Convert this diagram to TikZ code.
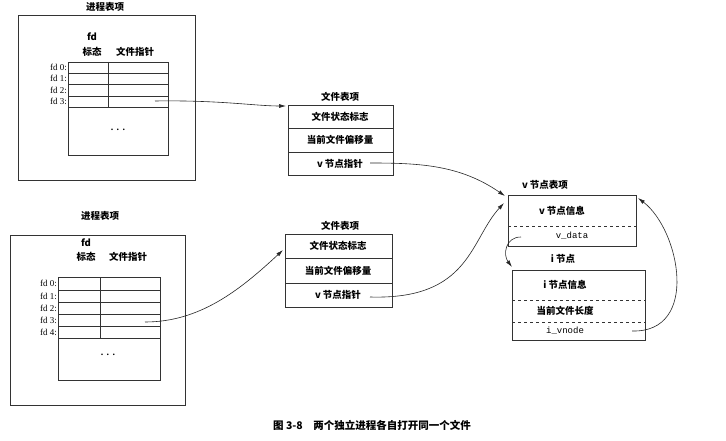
\documentclass[tikz,border=0pt]{standalone}
\usepackage{fontspec}
\setmainfont{Liberation Serif}
\setmonofont{Liberation Mono}
\newfontfamily\cjk{Noto Sans CJK SC}
\usetikzlibrary{arrows.meta}
\begin{document}
\begin{tikzpicture}[x=1pt,y=-1pt,
  lbl/.style={font=\cjk\bfseries\fontsize{9.5}{10}\selectfont,inner sep=1pt},
  fdl/.style={font=\fontsize{9}{9}\selectfont,anchor=east,inner sep=1pt},
  ln/.style={draw=black!80,line width=0.6pt},
  arr/.style={draw=black!85,line width=0.6pt,-{Latex[length=7pt,width=4pt]}}]
\fill[white] (0,0) rectangle (726,441);
\useasboundingbox (0,0) rectangle (726,441);
% top process
\node[lbl] (t1) at (105,7) {进程表项};
\draw[ln] (18,15) rectangle (195,180);
\node[lbl] (fd1) at (92,37) {fd};
\node[lbl] at (92,52) {标态};
\node[lbl] at (135,52) {文件指针};
\draw[ln] (68,62) rectangle (168,155);
\foreach \y in {73,84,96,107} \draw[ln] (68,\y) -- (168,\y);
\draw[ln] (108,62) -- (108,107);
\foreach \i/\y in {0/67.5,1/78.5,2/90,3/101.5} \node[fdl] at (68,\y) {fd \i:};
\node[font=\bfseries] at (118,130) {. . .};
\coordinate (p1) at (155,101);
% bottom process
\node[lbl] (t2) at (100,216) {进程表项};
\draw[ln] (10,235) rectangle (185,405);
\node[lbl] at (86,243) {fd};
\node[lbl] at (86,257) {标态};
\node[lbl] at (128,257) {文件指针};
\draw[ln] (58,277) rectangle (160,380);
\foreach \y in {290,302,314,326,338} \draw[ln] (58,\y) -- (160,\y);
\draw[ln] (100,277) -- (100,338);
\foreach \i/\y in {0/283.5,1/296,2/308,3/320,4/332} \node[fdl] at (58,\y) {fd \i:};
\node[font=\bfseries] at (108,355) {. . .};
\coordinate (p2) at (145,322);
% file table 1
\node[lbl] (f1t) at (340,97) {文件表项};
\draw[ln] (288,105) rectangle (393,175);
\draw[ln] (288,128) -- (393,128); \draw[ln] (288,152) -- (393,152);
\node[lbl] (f1a) at (340,116.5) {文件状态标志};
\node[lbl] (f1b) at (340,140) {当前文件偏移量};
\node[lbl] (f1c) at (340,163.5) {v 节点指针};
\coordinate (f1in) at (286,106);
\coordinate (f1out) at (370,163);
% file table 2
\node[lbl] (f2t) at (340,226) {文件表项};
\draw[ln] (285,234) rectangle (392,307);
\draw[ln] (285,258) -- (392,258); \draw[ln] (285,283) -- (392,283);
\node[lbl] (f2a) at (338,246) {文件状态标志};
\node[lbl] (f2b) at (338,270.5) {当前文件偏移量};
\node[lbl] (f2c) at (338,295) {v 节点指针};
\coordinate (f2in) at (283,250);
\coordinate (f2out) at (370,297);
% vnode
\node[lbl] (vt) at (545,185) {v 节点表项};
\draw[ln] (508,195) rectangle (636,246);
\draw[ln,dashed] (508,226) -- (636,226);
\node[lbl] (vi) at (562,211) {v 节点信息};
\node[font=\ttfamily\fontsize{9}{9}\selectfont] (vd) at (572,236) {v\_data};
\coordinate (vin1) at (505,196);
\coordinate (vin2) at (504,203);
\coordinate (vdo) at (521,237);
\coordinate (vback) at (638,198);
% inode
\node[lbl] (it) at (563,259) {i 节点};
\draw[ln] (512,270) rectangle (645,340);
\draw[ln,dashed] (512,300) -- (645,300);
\draw[ln,dashed] (512,322) -- (645,322);
\node[lbl] (ii) at (565,285) {i 节点信息};
\node[lbl] (il) at (565,311) {当前文件长度};
\node[font=\ttfamily\fontsize{9}{9}\selectfont] (iv) at (565,331) {i\_vnode};
\coordinate (iin) at (512,267);
\coordinate (ivo) at (632,331);
% arrows
\draw[arr] (p1) .. controls (220,100) and (255,106) .. (f1in);
\draw[arr] (p2) .. controls (200,322) and (240,290) .. (f2in);
\draw[arr] (f1out) .. controls (420,163) and (460,165) .. (vin1);
\draw[arr] (f2out) .. controls (470,300) and (470,240) .. (vin2);
\draw[arr] (vdo) .. controls (505,237) and (503,255) .. (iin);
\draw[arr] (ivo) .. controls (700,333) and (680,230) .. (vback);
% caption
\node[font=\cjk\bfseries\fontsize{10.5}{12}\selectfont] (cap) at (372,425) {图 3-8\quad 两个独立进程各自打开同一个文件};
\end{tikzpicture}
\end{document}
